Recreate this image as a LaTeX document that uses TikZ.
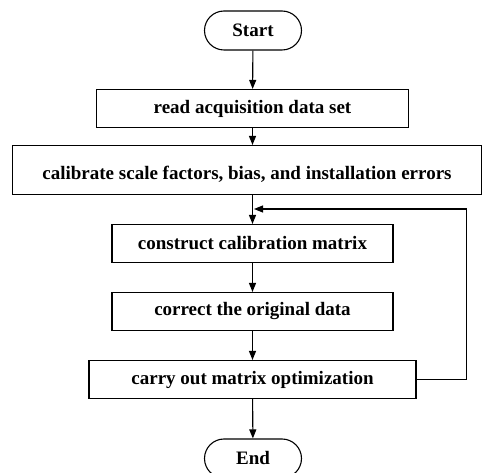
\documentclass[tikz,border=0pt]{standalone}
\usepackage{fontspec}
\setmainfont{Liberation Serif}
\usetikzlibrary{arrows.meta,shapes.misc}
\begin{document}
\begin{tikzpicture}[x=1pt,y=-1pt,line width=1.1pt,
  font=\fontsize{19}{22}\selectfont\bfseries,
  term/.style={draw,rounded rectangle,minimum width=97pt,minimum height=39pt,inner sep=0pt},
  proc/.style={draw,rectangle,minimum height=38pt,inner sep=0pt},
  arr/.style={-{Triangle[length=9pt,width=7pt]}}]
  \useasboundingbox (0,0) rectangle (483,473);
  % start and end:
  \node[term] (start) at (253,30.5) {Start};
  \node[term] (end) at (253,458.5) {End};
  % process boxes:
  \node[proc,minimum width=312pt] (read) at (252.5,108.5) {read acquisition data set};
  % wide box, text sits a bit low in it:
  \node[proc,minimum width=469pt,minimum height=49pt,text height=24pt,text depth=4pt] (calib) at (247,170) {calibrate scale factors, bias, and installation errors};
  \node[proc,minimum width=281pt] (construct) at (252.5,243.5) {construct calibration matrix};
  \node[proc,minimum width=281pt] (correct) at (252.5,311.5) {correct the original data};
  \node[proc,minimum width=327pt] (carry) at (252.5,379.5) {carry out matrix optimization};
  % where the loop comes back in:
  \coordinate (join) at (254,209);
  % main flow:
  \draw[arr] (start) -- (read);
  \draw[arr] (read) -- (read |- calib.north);
  \draw[arr] (construct |- calib.south) -- (construct);
  \draw[arr] (construct) -- (correct);
  \draw[arr] (correct) -- (carry);
  \draw[arr] (carry) -- (end);
  % loop back after optimization:
  \draw[arr] (carry.east) -- ++(50,0) |- (join);
\end{tikzpicture}
\end{document}
